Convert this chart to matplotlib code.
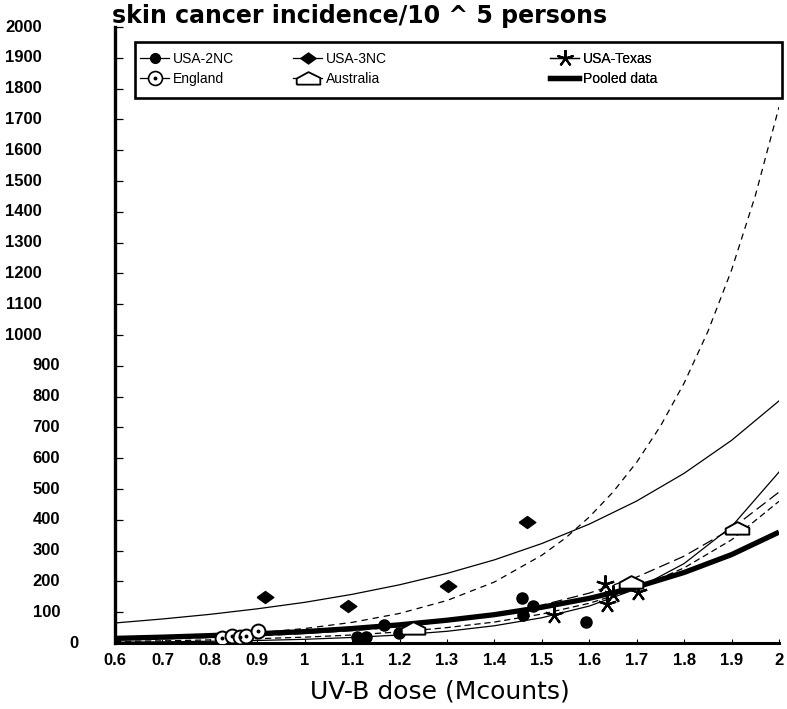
# skin cancer incidence vs UV-B dose, with fitted curves per region
import matplotlib
matplotlib.use("Agg")
import matplotlib.pyplot as plt
from matplotlib.path import Path
from matplotlib.lines import Line2D
from matplotlib.patches import Rectangle
from matplotlib.legend_handler import HandlerTuple
from matplotlib.transforms import blended_transform_factory

# observed points (UV-B dose, incidence per 10^5)
usa2nc_x = [1.111, 1.13, 1.168, 1.199, 1.459, 1.461, 1.482, 1.594]
usa2nc_y = [19, 19, 58, 32, 146, 91, 120, 68]
usa3nc_x = [0.916, 1.092, 1.303, 1.469]
usa3nc_y = [149, 120, 185, 393]
texas_x = [1.634, 1.649, 1.638, 1.703, 1.526]
texas_y = [192, 159, 127, 166, 91]
england_x = [0.826, 0.847, 0.864, 0.876, 0.902]
england_y = [16, 22, 19, 24, 40]
austr_x = [1.229, 1.689, 1.912]
austr_y = [49, 198, 373]

# fitted curves
cx = [0.6, 0.7, 0.8, 0.9, 1.0, 1.1, 1.2, 1.3, 1.4, 1.5, 1.6, 1.7, 1.8, 1.9, 2.0]
fit_3nc = [65, 78, 93, 111, 132, 158, 189, 226, 270, 323, 386, 461, 551, 658, 786]
fit_d1 = [10, 13, 18, 23, 31, 40, 53, 70, 93, 123, 162, 214, 282, 371, 490]
fit_d2 = [5, 7, 10, 14, 19, 26, 36, 50, 68, 94, 129, 177, 244, 335, 460]
fit_au = [2.6, 3.8, 5.6, 8.2, 12, 18, 26, 38, 56, 82, 120, 176, 258, 378, 555]
pooled = [15, 19, 24, 30, 37, 47, 59, 74, 92, 116, 145, 182, 229, 287, 360]
steep_x = [0.6, 0.7, 0.8, 0.9, 1.0, 1.1, 1.2, 1.3, 1.4, 1.5, 1.55, 1.6, 1.65,
           1.7, 1.75, 1.8, 1.85, 1.9, 1.95, 2.0]
steep_y = [11, 16, 23, 33, 47, 67, 96, 138, 198, 285, 341, 409, 490,
           587, 704, 844, 1011, 1211, 1452, 1740]

xticks = [0.6, 0.7, 0.8, 0.9, 1, 1.1, 1.2, 1.3, 1.4, 1.5, 1.6, 1.7, 1.8, 1.9, 2]
yticks = list(range(0, 2001, 100))

W, H = 787, 709
fig = plt.figure(figsize=(W / 100, H / 100), dpi=100)
ax = fig.add_axes([115 / W, (H - 643) / H, (779 - 115) / W, (643 - 27) / H])

ax.plot(cx, fit_3nc, color="k", lw=0.9)
ax.plot(steep_x, steep_y, color="k", lw=0.9, dashes=(5, 4))
ax.plot(cx, fit_d1, color="k", lw=0.9, dashes=(9, 4))
ax.plot(cx, fit_d2, color="k", lw=0.9, dashes=(5, 3))
ax.plot(cx, fit_au, color="k", lw=0.9)
ax.plot(cx, pooled, color="k", lw=3.8, solid_capstyle="butt")

diamond = Path([(-1, 0), (0, 0.72), (1, 0), (0, -0.72), (-1, 0)])
house = Path([(-1, -0.52), (1, -0.52), (1, 0.05), (0, 0.54), (-1, -0.01), (-1, -0.52)])

ax.plot(usa2nc_x, usa2nc_y, ls="none", marker="o", ms=8, color="k", zorder=4)
ax.plot(usa3nc_x, usa3nc_y, ls="none", marker=diamond, ms=12, color="k", zorder=4)
ax.plot(texas_x, texas_y, ls="none", marker=(5, 2, 0), ms=13, mew=1.6, color="k", zorder=4)
ax.plot(england_x, england_y, ls="none", marker="o", ms=10, mfc="white", mec="k", mew=1.4, zorder=4)
ax.plot(england_x, england_y, ls="none", marker="o", ms=1.8, color="k", zorder=5)
ax.plot(austr_x, austr_y, ls="none", marker=house, ms=17, mfc="white", mec="k", mew=1.4, zorder=4)

ax.set_xlim(0.6, 2.0)
ax.set_ylim(0, 2000)
ax.set_xticks(xticks)
ax.set_xticklabels([f"{t:g}" for t in xticks], fontsize=12, fontweight="bold",
                   family="Liberation Sans")
ax.set_yticks(yticks)
ax.set_yticklabels([])
ax.tick_params(axis="y", direction="in", length=6, width=0.9)
ax.tick_params(axis="x", direction="in", length=3, width=0.8, pad=7)
for s in ["top", "right"]:
    ax.spines[s].set_visible(False)
ax.spines["left"].set_linewidth(2.4)
ax.spines["bottom"].set_linewidth(2.2)

# y tick labels, placed like in the scan (not aligned)
tr = blended_transform_factory(fig.transFigure, ax.transData)
for v in yticks:
    if v == 0:
        xr = 78
    elif v < 1000:
        xr = 60
    else:
        xr = 42
    ax.text(xr / W, v, str(v), transform=tr, ha="right", va="center",
            fontsize=12, fontweight="bold", family="Liberation Sans")

fig.text(112 / W, 1 - 16 / H, "skin cancer incidence/10 ^ 5 persons", ha="left",
         va="center", fontsize=17, fontweight="bold", family="DejaVu Sans")
fig.text(440 / W, 1 - 692 / H, "UV-B dose (Mcounts)", ha="center", va="center",
         fontsize=18, family="DejaVu Sans")

# legend: three columns inside a hand drawn frame
h2nc = Line2D([], [], color="k", lw=0.9, marker="o", ms=7)
h3nc = Line2D([], [], color="k", lw=0.9, marker=diamond, ms=11)
htx = Line2D([], [], color="k", lw=0.9, marker=(5, 2, 0), ms=12, mew=1.4)
heng = (Line2D([], [], color="k", lw=0.9, marker="o", ms=10, mfc="white", mew=1.2),
        Line2D([], [], ls="none", marker="o", ms=1.8, color="k"))
haus = Line2D([], [], color="k", lw=0.9, marker=house, ms=17, mfc="white", mew=1.3)
hpool = Line2D([], [], color="k", lw=3.8)

cols = [((h2nc, heng), ("USA-2NC", "England"), 140),
        ((h3nc, haus), ("USA-3NC", "Australia"), 293),
        ((htx, hpool), ("USA-Texas", "Pooled data"), 550)]
for handles, labels, xl in cols:
    leg = ax.legend(handles, labels, loc="upper left", frameon=False,
                    bbox_to_anchor=(xl / W, 1 - 52 / H), bbox_transform=fig.transFigure,
                    borderpad=0, borderaxespad=0, handlelength=2.1, handletextpad=0.3,
                    labelspacing=0.42, prop={"family": "Liberation Sans", "size": 10},
                    handler_map={tuple: HandlerTuple(ndivide=1)})
    ax.add_artist(leg)

fig.patches.append(Rectangle((135 / W, 1 - 98 / H), (782 - 135) / W, (98 - 42) / H,
                             transform=fig.transFigure, fill=False, lw=1.9,
                             edgecolor="k", figure=fig))

fig.savefig("out.png", dpi=100)
